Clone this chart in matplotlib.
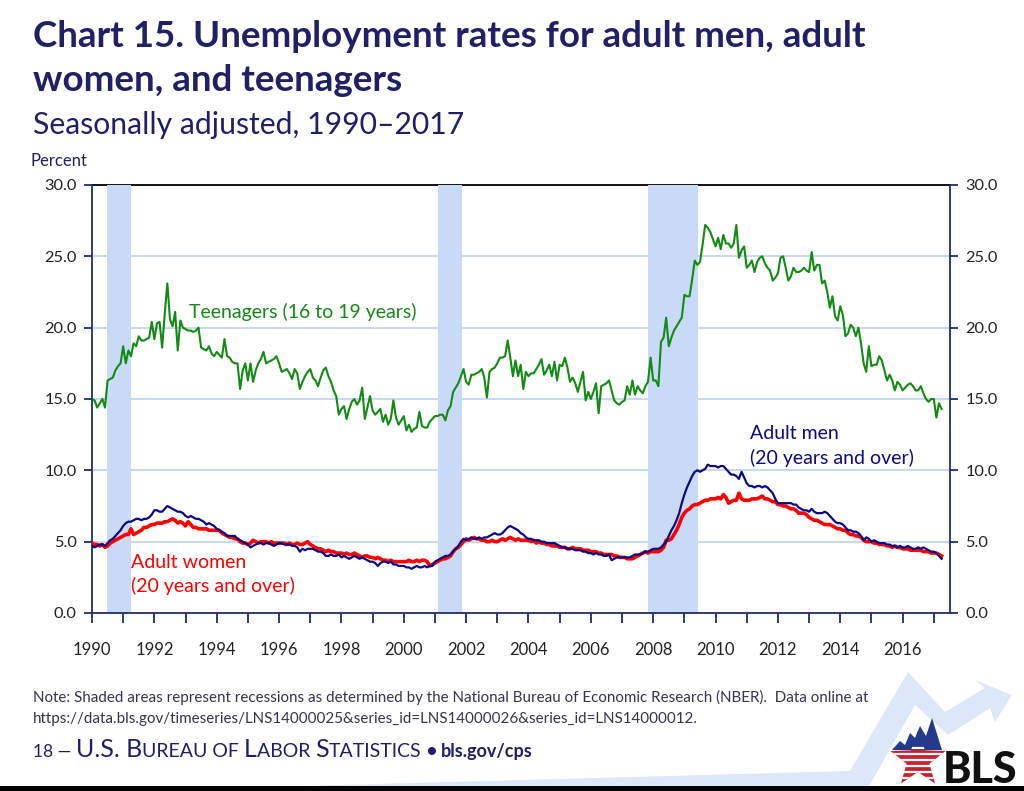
import matplotlib
matplotlib.use('Agg')
import matplotlib.pyplot as plt
import numpy as np
from matplotlib.patches import Polygon, Rectangle

plt.rcParams['font.family'] = ['Lato', 'DejaVu Sans']

# ---------------- data (monthly, Jan 1990 - Apr 2017) ----------------
start_year = 1990
teen = [
    15.0, 14.9, 14.4, 14.7, 15.0, 14.4, 16.3, 16.4, 16.5, 17.0, 17.3, 17.5,  # 1990
    18.7, 17.5, 18.4, 18.0, 18.9, 18.7, 19.4, 19.1, 19.1, 19.2, 19.3, 20.4,  # 1991
    19.2, 20.3, 20.4, 18.6, 21.0, 23.1, 20.6, 20.1, 21.1, 18.4, 20.5, 20.0,  # 1992
    19.9, 19.8, 19.8, 19.7, 19.8, 20.0, 18.6, 18.5, 18.4, 18.7, 18.2, 18.0,  # 1993
    18.3, 18.1, 17.9, 19.2, 18.0, 17.9, 17.6, 17.5, 17.5, 15.7, 17.0, 17.5,  # 1994
    16.3, 17.5, 16.2, 17.0, 17.5, 17.8, 18.3, 17.5, 17.6, 17.7, 17.8, 18.0,  # 1995
    17.5, 16.9, 17.0, 17.1, 16.8, 16.4, 17.1, 16.8, 15.7, 16.2, 16.6, 16.9,  # 1996
    17.1, 16.5, 16.3, 15.9, 16.5, 17.0, 17.2, 16.6, 16.2, 15.6, 15.2, 13.9,  # 1997
    14.3, 14.5, 13.6, 14.3, 14.8, 15.0, 14.6, 14.9, 15.8, 13.6, 14.4, 15.2,  # 1998
    14.2, 13.9, 14.1, 14.3, 13.4, 13.9, 13.2, 13.6, 14.9, 13.7, 13.2, 13.5,  # 1999
    13.8, 12.8, 13.2, 12.7, 12.9, 13.0, 14.1, 13.1, 13.0, 13.0, 13.4, 13.6,  # 2000
    13.8, 13.8, 13.9, 13.9, 13.5, 14.2, 14.5, 15.5, 15.8, 16.1, 16.6, 17.1,  # 2001
    16.2, 16.0, 16.7, 16.7, 16.8, 16.9, 17.1, 16.5, 15.1, 16.9, 17.1, 17.2,  # 2002
    17.5, 17.9, 17.9, 18.0, 19.1, 17.9, 16.6, 17.7, 16.6, 17.4, 15.7, 16.9,  # 2003
    16.6, 16.8, 16.8, 17.1, 17.4, 17.8, 16.7, 17.0, 17.4, 16.6, 17.6, 16.3,  # 2004
    17.4, 17.3, 17.9, 17.2, 16.2, 16.5, 16.1, 15.5, 16.2, 16.9, 14.9, 15.5,  # 2005
    15.0, 15.5, 16.1, 14.0, 15.9, 16.0, 16.1, 16.3, 15.6, 14.9, 14.7, 14.6,  # 2006
    14.8, 14.9, 15.9, 15.3, 16.3, 15.3, 15.9, 15.6, 15.4, 15.9, 16.2, 17.9,  # 2007
    16.3, 16.3, 15.9, 19.0, 19.3, 20.7, 18.7, 19.3, 19.8, 20.1, 20.4, 20.7,  # 2008
    22.3, 22.2, 22.2, 23.4, 24.7, 24.4, 24.6, 25.8, 27.2, 27.0, 26.7, 26.2,  # 2009
    25.7, 26.3, 25.5, 26.5, 25.9, 25.9, 25.6, 25.9, 27.2, 24.9, 25.4, 25.7,  # 2010
    24.2, 24.4, 24.7, 23.9, 24.6, 24.9, 25.0, 24.5, 24.2, 24.0, 23.3, 23.5,  # 2011
    23.8, 24.9, 25.0, 24.2, 23.3, 23.6, 24.2, 23.9, 23.9, 24.0, 24.2, 24.0,  # 2012
    23.9, 25.3, 24.0, 24.4, 24.4, 23.1, 23.3, 22.5, 21.4, 22.2, 20.8, 20.5,  # 2013
    21.5, 20.9, 19.4, 19.6, 20.2, 20.0, 19.4, 20.0, 18.9, 17.5, 16.9, 18.7,  # 2014
    17.3, 17.4, 17.4, 18.0, 17.7, 17.0, 16.3, 16.7, 16.3, 15.6, 16.2, 16.0,  # 2015
    15.6, 15.8, 16.0, 16.1, 15.9, 15.6, 15.6, 15.9, 15.4, 15.0, 14.8, 15.0,  # 2016
    15.0, 13.7, 14.7, 14.3,                                                  # 2017
]
men = [
    4.7, 4.6, 4.7, 4.8, 4.8, 4.7, 4.9, 5.1, 5.2, 5.4, 5.6, 5.8,   # 1990
    6.1, 6.3, 6.4, 6.4, 6.5, 6.6, 6.6, 6.5, 6.6, 6.6, 6.7, 6.9,   # 1991
    7.2, 7.2, 7.1, 7.1, 7.3, 7.5, 7.4, 7.3, 7.2, 7.1, 7.1, 7.0,   # 1992
    6.8, 6.7, 6.8, 6.7, 6.6, 6.6, 6.5, 6.4, 6.2, 6.3, 6.2, 6.1,   # 1993
    5.9, 5.8, 5.7, 5.6, 5.4, 5.4, 5.4, 5.4, 5.2, 5.1, 5.0, 4.9,   # 1994
    4.8, 4.6, 4.7, 4.8, 4.9, 4.9, 4.8, 4.9, 4.9, 4.8, 4.7, 4.8,   # 1995
    4.9, 4.9, 4.8, 4.8, 4.8, 4.7, 4.7, 4.6, 4.3, 4.5, 4.4, 4.5,   # 1996
    4.5, 4.5, 4.4, 4.3, 4.3, 4.2, 4.0, 4.0, 4.1, 4.0, 4.0, 4.1,   # 1997
    3.9, 4.0, 3.9, 3.8, 3.9, 4.0, 3.9, 3.8, 3.9, 3.8, 3.7, 3.6,   # 1998
    3.6, 3.5, 3.3, 3.5, 3.6, 3.6, 3.5, 3.6, 3.4, 3.4, 3.3, 3.3,   # 1999
    3.3, 3.2, 3.2, 3.1, 3.2, 3.3, 3.2, 3.2, 3.3, 3.2, 3.3, 3.3,   # 2000
    3.6, 3.7, 3.8, 3.9, 4.0, 4.0, 4.1, 4.3, 4.5, 4.7, 5.0, 5.2,   # 2001
    5.1, 5.2, 5.3, 5.2, 5.2, 5.3, 5.2, 5.3, 5.3, 5.4, 5.5, 5.6,   # 2002
    5.5, 5.5, 5.6, 5.8, 6.0, 6.1, 6.0, 5.9, 5.8, 5.6, 5.5, 5.3,   # 2003
    5.2, 5.2, 5.1, 5.1, 5.1, 5.0, 5.0, 4.9, 4.9, 4.9, 4.9, 4.8,   # 2004
    4.7, 4.6, 4.6, 4.5, 4.5, 4.5, 4.4, 4.4, 4.4, 4.3, 4.3, 4.2,   # 2005
    4.2, 4.1, 4.2, 4.1, 4.1, 4.0, 4.0, 4.1, 3.7, 3.8, 3.9, 3.9,   # 2006
    3.9, 3.9, 3.9, 3.9, 4.0, 4.1, 4.1, 4.1, 4.2, 4.3, 4.3, 4.4,   # 2007
    4.5, 4.5, 4.5, 4.6, 4.8, 5.0, 5.4, 5.8, 6.1, 6.5, 7.0, 7.7,   # 2008
    8.3, 8.8, 9.2, 9.6, 9.9, 10.0, 9.9, 10.0, 10.1, 10.4, 10.3, 10.3,  # 2009
    10.3, 10.2, 10.3, 10.3, 10.1, 9.9, 9.7, 9.7, 9.6, 9.4, 9.9, 9.5,   # 2010
    9.1, 8.9, 8.9, 8.8, 8.9, 8.9, 8.8, 8.9, 8.8, 8.6, 8.4, 8.0,   # 2011
    7.7, 7.7, 7.7, 7.7, 7.7, 7.7, 7.6, 7.6, 7.4, 7.3, 7.2, 7.2,   # 2012
    7.1, 7.3, 7.1, 7.0, 7.0, 7.0, 7.1, 7.0, 6.8, 6.6, 6.4, 6.3,   # 2013
    6.3, 6.2, 6.0, 5.8, 5.8, 5.7, 5.7, 5.6, 5.4, 5.1, 5.3, 5.2,   # 2014
    5.0, 5.1, 5.0, 4.9, 4.9, 4.9, 4.8, 4.8, 4.7, 4.7, 4.6, 4.7,   # 2015
    4.6, 4.6, 4.7, 4.6, 4.5, 4.5, 4.6, 4.5, 4.6, 4.5, 4.4, 4.3,   # 2016
    4.3, 4.2, 4.0, 3.8,                                           # 2017
]
women = [
    4.9, 4.8, 4.8, 4.7, 4.8, 4.6, 4.7, 4.9, 5.0, 5.1, 5.2, 5.3,   # 1990
    5.4, 5.5, 5.5, 5.9, 5.5, 5.6, 5.7, 5.8, 6.0, 6.0, 6.1, 6.2,   # 1991
    6.2, 6.3, 6.3, 6.3, 6.4, 6.4, 6.5, 6.6, 6.5, 6.3, 6.4, 6.3,   # 1992
    6.1, 6.4, 6.2, 6.0, 6.0, 5.9, 5.9, 5.9, 5.9, 5.8, 5.8, 5.8,   # 1993
    5.8, 5.8, 5.6, 5.5, 5.4, 5.3, 5.3, 5.2, 5.2, 5.0, 4.9, 4.9,   # 1994
    4.8, 4.9, 5.1, 5.0, 4.9, 5.0, 5.0, 5.0, 4.9, 5.0, 4.9, 4.9,   # 1995
    4.9, 4.9, 4.9, 4.8, 4.9, 4.8, 4.8, 4.9, 4.8, 4.8, 4.9, 5.0,   # 1996
    4.8, 4.7, 4.6, 4.5, 4.5, 4.4, 4.3, 4.4, 4.3, 4.3, 4.2, 4.2,   # 1997
    4.2, 4.1, 4.2, 4.1, 4.1, 4.2, 4.1, 4.0, 3.9, 4.0, 4.0, 3.9,   # 1998
    3.9, 3.8, 3.9, 3.8, 3.7, 3.7, 3.6, 3.7, 3.6, 3.6, 3.6, 3.6,   # 1999
    3.6, 3.6, 3.7, 3.6, 3.6, 3.7, 3.6, 3.7, 3.7, 3.6, 3.3, 3.4,   # 2000
    3.5, 3.6, 3.7, 3.8, 3.8, 3.9, 4.0, 4.3, 4.5, 4.6, 4.8, 5.0,   # 2001
    5.2, 5.1, 5.2, 5.3, 5.2, 5.2, 5.1, 5.1, 5.0, 5.0, 5.1, 5.0,   # 2002
    5.0, 5.1, 5.2, 5.1, 5.2, 5.3, 5.2, 5.1, 5.2, 5.1, 5.1, 5.1,   # 2003
    5.1, 5.0, 5.1, 4.9, 5.0, 4.9, 4.9, 4.8, 4.8, 4.7, 4.7, 4.7,   # 2004
    4.6, 4.6, 4.6, 4.5, 4.5, 4.6, 4.5, 4.5, 4.5, 4.4, 4.4, 4.4,   # 2005
    4.3, 4.3, 4.3, 4.2, 4.2, 4.1, 4.1, 4.1, 4.1, 4.0, 4.0, 3.9,   # 2006
    3.9, 3.9, 3.8, 3.8, 3.8, 3.9, 4.0, 4.1, 4.2, 4.3, 4.2, 4.3,   # 2007
    4.3, 4.3, 4.3, 4.4, 4.6, 5.1, 5.1, 5.2, 5.5, 5.8, 6.2, 6.7,   # 2008
    7.0, 7.2, 7.3, 7.5, 7.6, 7.6, 7.7, 7.8, 7.9, 7.9, 8.0, 8.0,   # 2009
    8.0, 8.1, 8.0, 8.3, 8.1, 7.7, 7.8, 7.9, 7.9, 8.4, 8.0, 7.9,   # 2010
    7.9, 7.9, 8.0, 8.0, 8.0, 8.1, 8.2, 8.0, 8.0, 7.9, 7.8, 7.8,   # 2011
    7.6, 7.6, 7.5, 7.5, 7.4, 7.3, 7.3, 7.2, 7.0, 7.0, 7.0, 6.9,   # 2012
    6.7, 6.6, 6.5, 6.5, 6.4, 6.3, 6.2, 6.2, 6.2, 6.1, 6.0, 5.9,   # 2013
    5.9, 5.8, 5.8, 5.6, 5.5, 5.5, 5.4, 5.4, 5.3, 5.1, 5.0, 5.0,   # 2014
    5.0, 4.9, 4.9, 4.8, 4.8, 4.8, 4.7, 4.7, 4.6, 4.7, 4.6, 4.6,   # 2015
    4.5, 4.5, 4.5, 4.4, 4.4, 4.4, 4.4, 4.4, 4.3, 4.3, 4.3, 4.2,   # 2016
    4.2, 4.2, 4.1, 4.0,                                           # 2017
]
recessions = [(1990.48, 1991.25), (2001.10, 2001.87), (2007.84, 2009.43)]
y_ticks = [0, 5, 10, 15, 20, 25, 30]
x_label_years = list(range(1990, 2017, 2))

title_lines = ["Chart 15. Unemployment rates for adult men, adult",
               "women, and teenagers"]
subtitle = "Seasonally adjusted, 1990\u20132017"
note_lines = ["Note: Shaded areas represent recessions as determined by the National Bureau of Economic Research (NBER).  Data online at",
              "https://data.bls.gov/timeseries/LNS14000025&series_id=LNS14000026&series_id=LNS14000012."]

# ---------------- styling ----------------
NAVY_TXT = '#1f2066'
MEN_C = '#0a0a85'
WOMEN_C = '#ff0000'
TEEN_C = '#138a13'
SHADE_C = '#c9daf8'
GRID_C = '#c6d9f1'
SPINE_C = '#1f2d6b'

W, H = 1024, 791
fig = plt.figure(figsize=(W / 100, H / 100), dpi=100)
fig.patch.set_facecolor('white')

# decoration layer in pixel coordinates
deco = fig.add_axes([0, 0, 1, 1], zorder=0)
deco.set_xlim(0, W)
deco.set_ylim(H, 0)
deco.axis('off')

# light-blue arrow motif (bottom right)
arrow_poly = [(230, 788), (850, 771), (908, 672), (945, 712), (985, 688),
              (975, 680), (1012, 695), (995, 722), (990, 708), (948, 735),
              (915, 705), (868, 788)]
deco.add_patch(Polygon(arrow_poly, closed=True, facecolor='#dce7fa', edgecolor='none'))
deco.add_patch(Rectangle((0, 786), W, 6, facecolor='black', edgecolor='none'))

# BLS logo (simplified)
cx, cy, R, r = 918, 760, 29, 12
pts = []
for k in range(10):
    ang = np.pi / 2 + k * np.pi / 5
    rad = R if k % 2 == 0 else r
    pts.append((cx + rad * np.cos(ang), cy - rad * np.sin(ang)))
star = Polygon(pts, closed=True, facecolor='#c8202f', edgecolor='none')
deco.add_patch(star)
for yy in range(748, 790, 6):
    ln = deco.plot([880, 955], [yy, yy], color='white', lw=1.6)[0]
    ln.set_clip_path(star)
top = Polygon([(892, 750), (900, 741), (905, 745), (910, 733), (915, 738), (920, 726),
               (926, 736), (932, 718), (942, 750)], closed=True, facecolor='#243b8c', edgecolor='none')
deco.add_patch(top)
deco.text(943, 783, 'BLS', fontsize=31, fontweight='black', color='#111111',
          ha='left', va='baseline', family=['Lato', 'DejaVu Sans'])

# ---------------- titles ----------------
fig.text(33 / W, 1 - 47 / H, title_lines[0], fontsize=26.5, fontweight='bold', color=NAVY_TXT,
         ha='left', va='baseline')
fig.text(33 / W, 1 - 91 / H, title_lines[1], fontsize=26.5, fontweight='bold', color=NAVY_TXT,
         ha='left', va='baseline')
fig.text(33 / W, 1 - 134 / H, subtitle, fontsize=21.7, color=NAVY_TXT, ha='left', va='baseline')
fig.text(31 / W, 1 - 166 / H, 'Percent', fontsize=12, color=NAVY_TXT, ha='left', va='baseline')

# notes
fig.text(33 / W, 1 - 702 / H, note_lines[0], fontsize=10.9, color='#333355', ha='left', va='baseline')
fig.text(33 / W, 1 - 723 / H, note_lines[1], fontsize=10.9, color='#333355', ha='left', va='baseline')

# footer with small caps
fig.canvas.draw()
renderer = fig.canvas.get_renderer()
pieces = [("18 \u2014 ", 12.5, 'normal'), ("U.S. B", 18, 'normal'), ("UREAU OF ", 14, 'normal'),
          ("L", 18, 'normal'), ("ABOR ", 14, 'normal'), ("S", 18, 'normal'),
          ("TATISTICS", 14, 'normal'), (" \u2022 ", 13.5, 'bold'), ("bls.gov/cps", 13, 'bold')]
xpos = 33
for txt, sz, wt in pieces:
    t = deco.text(xpos, 757, txt, fontsize=sz, fontweight=wt, color=NAVY_TXT,
                  ha='left', va='baseline')
    bb = t.get_window_extent(renderer=renderer)
    xpos += bb.width

# ---------------- main chart ----------------
ax = fig.add_axes([92 / W, 1 - 613 / H, (950 - 92) / W, (613 - 185) / H], zorder=2)
ax.patch.set_alpha(0)
n = len(teen)
x = start_year + np.arange(n) / 12.0

for a, b in recessions:
    ax.axvspan(a, b, color=SHADE_C, zorder=1, lw=0)
for yv in y_ticks[1:-1]:
    ax.axhline(yv, color=GRID_C, lw=1.4, zorder=0.5)

ax.plot(x, women[:n], color=WOMEN_C, lw=2.6, zorder=3, solid_joinstyle='round')
ax.plot(x, men[:n], color=MEN_C, lw=1.6, zorder=4)
ax.plot(x, teen, color=TEEN_C, lw=1.5, zorder=4)

ax.set_xlim(1990, 2017.52)
ax.set_ylim(0, 30)

for side in ['left', 'right', 'bottom']:
    ax.spines[side].set_color(SPINE_C)
    ax.spines[side].set_linewidth(1.3)
ax.spines['top'].set_color('black')
ax.spines['top'].set_linewidth(1.3)
ax.spines['top'].set_zorder(0.8)

ax.set_yticks(y_ticks)
ax.set_yticklabels([f"{v:.1f}" for v in y_ticks])
ax.tick_params(axis='y', which='both', left=True, right=True, labelleft=True, labelright=True,
               direction='out', length=6, width=1.3, color=SPINE_C, labelsize=11.8,
               labelcolor='#222222', pad=5)
ax.set_xticks(list(range(1990, 2018)))
ax.set_xticklabels([str(yv) if yv in x_label_years else '' for yv in range(1990, 2018)])
ax.tick_params(axis='x', direction='out', length=7, width=1.3, color=SPINE_C,
               labelsize=12, labelcolor='#222222', pad=14)

# series labels
lab_fs = 14
ax.text(1993.12, 21.1, 'Teenagers (16 to 19 years)', color=TEEN_C, fontsize=lab_fs,
        ha='left', va='center')
ax.text(2011.1, 12.6, 'Adult men', color=MEN_C, fontsize=lab_fs, ha='left', va='center')
ax.text(2011.1, 10.9, '(20 years and over)', color=MEN_C, fontsize=lab_fs, ha='left', va='center')
ax.text(1991.26, 3.57, 'Adult women', color=WOMEN_C, fontsize=lab_fs, ha='left', va='center')
ax.text(1991.26, 1.89, '(20 years and over)', color=WOMEN_C, fontsize=lab_fs, ha='left', va='center')

fig.savefig('out.png', dpi=100, facecolor='white')
